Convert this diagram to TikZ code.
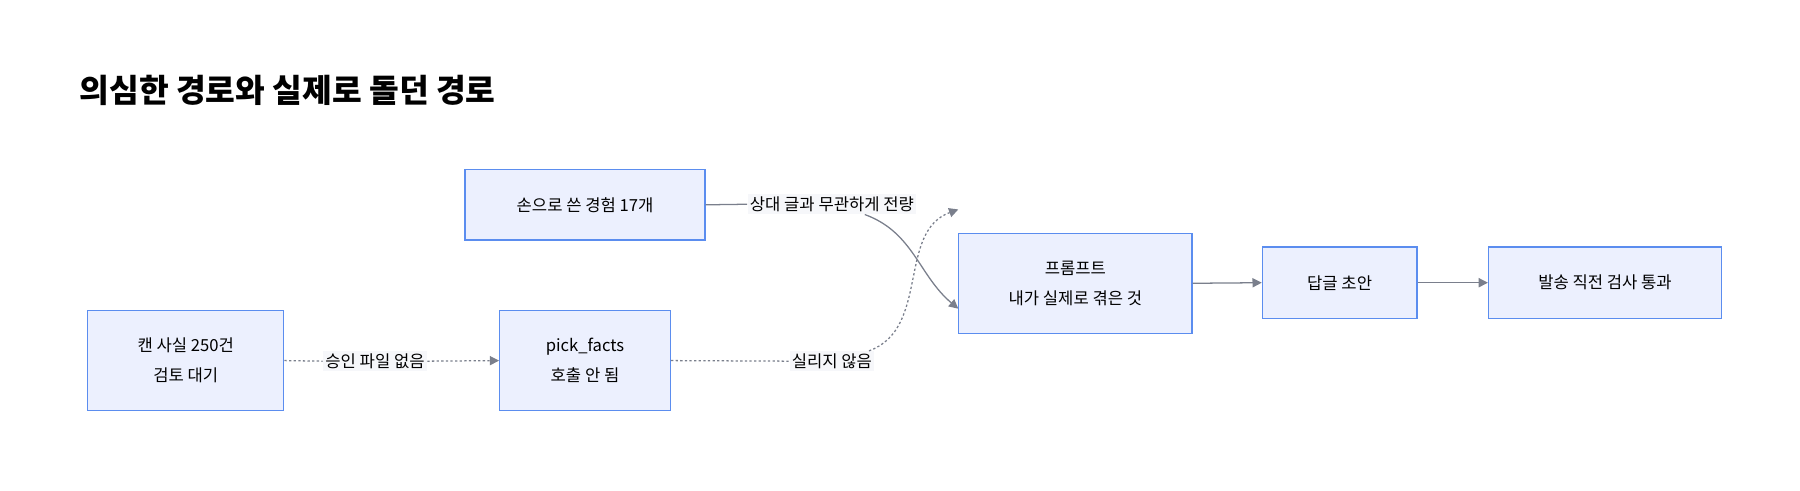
\documentclass[tikz,border=0pt]{standalone}
\usepackage{fontspec}
\setmainfont{Noto Sans CJK KR}
\usetikzlibrary{arrows.meta,positioning}
\definecolor{boxfill}{HTML}{ECF0FE}
\definecolor{boxdraw}{HTML}{5B8DEF}
\definecolor{edgegray}{HTML}{7A7F8C}
\definecolor{labelbg}{HTML}{F6F7FA}
\tikzset{
    stage/.style={rectangle, fill=boxfill, draw=boxdraw, line width=0.5pt, align=center, font=\fontsize{7.2}{13}\selectfont, inner sep=0pt},
    flow/.style={-{Triangle[length=4pt,width=4pt]}, edgegray, line width=0.55pt},
    lost/.style={flow, dash pattern=on 1pt off 1pt},
    tag/.style={fill=labelbg, font=\fontsize{7.2}{9}\selectfont, inner sep=1pt}
}
\begin{document}
\begin{tikzpicture}[x=0.5pt, y=-0.5pt]
    \useasboundingbox (0,0) rectangle (1560,425);

    % === TITLE ===
    \node[anchor=west, font=\fontsize{14}{16}\selectfont\bfseries] (title) at (62,78) {의심한 경로와 실제로 돌던 경로};

    % === BOXES ===
    \node[stage, minimum width=104pt, minimum height=30.5pt] (hand) at (507,177.5) {손으로 쓴 경험 17개};
    \node[stage, minimum width=101pt, minimum height=43.5pt] (prompt) at (932,245.5) {프롬프트\\내가 실제로 겪은 것};
    \node[stage, minimum width=67pt, minimum height=31pt] (draft) at (1161,245) {답글 초안};
    \node[stage, minimum width=101pt, minimum height=31pt] (check) at (1391,245) {발송 직전 검사 통과};
    \node[stage, minimum width=85pt, minimum height=43.5pt] (facts) at (161,312.5) {캔 사실 250건\\검토 대기};
    \node[stage, minimum width=74pt, minimum height=43.5pt] (pick) at (507,312.5) {pick\_facts\\호출 안 됨};

    % === LABELS ===
    \node[tag] (tone) at (721,177) {상대 글과 무관하게 전량};
    \node[tag] (nofile) at (325,313) {승인 파일 없음};
    \node[tag] (notin) at (721,313) {실리지 않음};

    % === CONNECTORS ===
    \draw[edgegray, line width=0.55pt] (hand.east) -- (tone.west);
    \draw[flow] (tone.south east) ++(-45,0) to[out=-20,in=140] ([yshift=-11]prompt.west);
    \draw[lost, -] (facts.east) -- (nofile.west);
    \draw[lost] (nofile.east) -- (pick.west);
    \draw[lost, -] (pick.east) -- (notin.west);
    \draw[lost] (notin.north east) ++(-5,0) to[out=20,in=200] ([yshift=32]prompt.west);
    \draw[flow] (prompt.east) -- (draft.west);
    \draw[flow] (draft.east) -- (check.west);
\end{tikzpicture}
\end{document}
